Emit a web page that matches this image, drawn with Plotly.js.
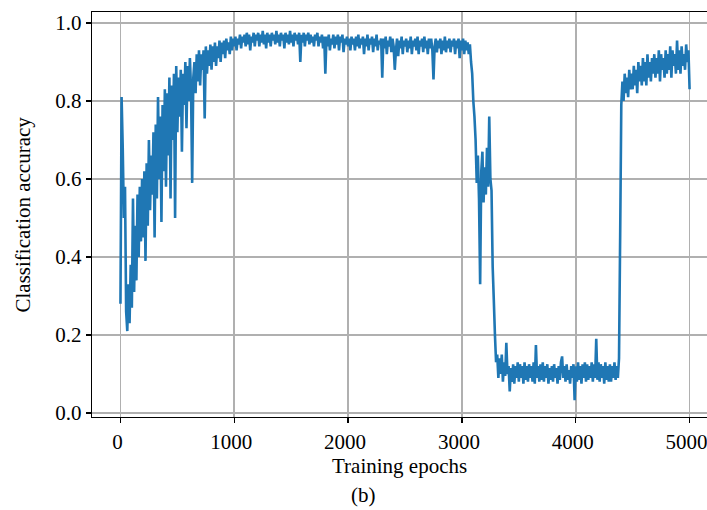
<!DOCTYPE html>
<html>
<head>
<meta charset="utf-8">
<script src="https://cdn.plot.ly/plotly-3.0.1.min.js"></script>
<style>
html, body { margin: 0; padding: 0; background: #ffffff; overflow: hidden; }
#chart { width: 707px; height: 510px; }
</style>
</head>
<body>
<div id="chart"></div>
<script>
// Sampling interval of the recorded accuracy (epochs between samples)
const epochStep = 10;

// Classification accuracy, one value every 10 epochs (0 .. 5000)
const accuracy = [
  0.28, 0.81, 0.68, 0.50, 0.58, 0.26, 0.21, 0.33, 0.23, 0.38,
  0.27, 0.55, 0.31, 0.48, 0.34, 0.56, 0.40, 0.58, 0.44, 0.60,
  0.45, 0.62, 0.39, 0.64, 0.48, 0.70, 0.52, 0.66, 0.56, 0.72,
  0.45, 0.74, 0.55, 0.81, 0.60, 0.76, 0.49, 0.79, 0.62, 0.83,
  0.58, 0.82, 0.66, 0.86, 0.55, 0.84, 0.70, 0.87, 0.50, 0.89,
  0.72, 0.86, 0.76, 0.88, 0.67, 0.87, 0.79, 0.90, 0.73, 0.89,
  0.80, 0.91, 0.83, 0.59, 0.86, 0.90, 0.82, 0.92, 0.85, 0.93,
  0.84, 0.92, 0.88, 0.93, 0.755, 0.94, 0.87, 0.93, 0.89, 0.945,
  0.88, 0.94, 0.90, 0.95, 0.89, 0.94, 0.91, 0.955, 0.90, 0.95,
  0.92, 0.955, 0.91, 0.96, 0.93, 0.95, 0.92, 0.965, 0.93, 0.96,
  0.94, 0.965, 0.93, 0.96, 0.945, 0.97, 0.935, 0.965, 0.95, 0.97,
  0.94, 0.975, 0.945, 0.97, 0.93, 0.965, 0.95, 0.975, 0.94, 0.97,
  0.955, 0.975, 0.94, 0.97, 0.95, 0.98, 0.945, 0.97, 0.935, 0.975,
  0.95, 0.97, 0.94, 0.975, 0.955, 0.97, 0.945, 0.98, 0.95, 0.97,
  0.94, 0.975, 0.955, 0.97, 0.935, 0.975, 0.95, 0.97, 0.945, 0.98,
  0.95, 0.97, 0.94, 0.975, 0.955, 0.97, 0.945, 0.975, 0.90, 0.97,
  0.95, 0.975, 0.94, 0.97, 0.955, 0.975, 0.945, 0.97, 0.95, 0.965,
  0.94, 0.97, 0.955, 0.975, 0.94, 0.965, 0.95, 0.97, 0.935, 0.965,
  0.87, 0.965, 0.94, 0.97, 0.93, 0.96, 0.945, 0.97, 0.935, 0.965,
  0.945, 0.97, 0.93, 0.965, 0.95, 0.97, 0.925, 0.96, 0.945, 0.965,
  0.94, 0.96, 0.93, 0.965, 0.945, 0.96, 0.93, 0.965, 0.94, 0.97,
  0.935, 0.96, 0.945, 0.965, 0.92, 0.96, 0.94, 0.97, 0.93, 0.96,
  0.945, 0.965, 0.925, 0.96, 0.94, 0.97, 0.93, 0.955, 0.945, 0.96,
  0.86, 0.96, 0.935, 0.965, 0.92, 0.955, 0.94, 0.965, 0.925, 0.96,
  0.94, 0.88, 0.93, 0.96, 0.915, 0.955, 0.935, 0.965, 0.92, 0.955,
  0.94, 0.96, 0.925, 0.955, 0.935, 0.965, 0.92, 0.955, 0.94, 0.96,
  0.93, 0.965, 0.92, 0.955, 0.94, 0.96, 0.925, 0.965, 0.935, 0.955,
  0.92, 0.96, 0.935, 0.96, 0.93, 0.855, 0.94, 0.96, 0.925, 0.955,
  0.935, 0.96, 0.92, 0.955, 0.93, 0.965, 0.925, 0.955, 0.935, 0.96,
  0.925, 0.955, 0.94, 0.96, 0.92, 0.955, 0.935, 0.96, 0.91, 0.955,
  0.93, 0.96, 0.92, 0.955, 0.93, 0.95, 0.92, 0.945, 0.90, 0.87,
  0.80, 0.76, 0.70, 0.59, 0.66, 0.55, 0.33, 0.62, 0.67, 0.54,
  0.63, 0.56, 0.68, 0.58, 0.76, 0.60, 0.57, 0.375, 0.29, 0.20,
  0.13, 0.15, 0.09, 0.14, 0.10, 0.15, 0.08, 0.13, 0.095, 0.18,
  0.10, 0.12, 0.055, 0.115, 0.08, 0.125, 0.075, 0.12, 0.09, 0.13,
  0.08, 0.125, 0.09, 0.12, 0.075, 0.13, 0.085, 0.12, 0.08, 0.125,
  0.09, 0.12, 0.08, 0.13, 0.075, 0.174, 0.09, 0.12, 0.08, 0.125,
  0.085, 0.13, 0.08, 0.12, 0.09, 0.125, 0.075, 0.115, 0.085, 0.12,
  0.08, 0.125, 0.09, 0.115, 0.075, 0.12, 0.085, 0.13, 0.145, 0.09,
  0.12, 0.08, 0.125, 0.085, 0.11, 0.075, 0.12, 0.09, 0.125, 0.033,
  0.12, 0.08, 0.13, 0.085, 0.12, 0.075, 0.125, 0.09, 0.13, 0.08,
  0.125, 0.085, 0.12, 0.09, 0.13, 0.08, 0.125, 0.09, 0.19, 0.085,
  0.13, 0.08, 0.125, 0.09, 0.12, 0.075, 0.13, 0.085, 0.12, 0.08,
  0.125, 0.08, 0.12, 0.09, 0.13, 0.085, 0.12, 0.09, 0.14, 0.45,
  0.79, 0.85, 0.80, 0.87, 0.82, 0.86, 0.81, 0.88, 0.83, 0.87,
  0.83, 0.89, 0.84, 0.88, 0.82, 0.90, 0.85, 0.89, 0.84, 0.91,
  0.85, 0.90, 0.84, 0.92, 0.86, 0.90, 0.85, 0.91, 0.87, 0.92,
  0.86, 0.91, 0.87, 0.93, 0.85, 0.92, 0.88, 0.91, 0.86, 0.93,
  0.87, 0.92, 0.88, 0.94, 0.86, 0.93, 0.89, 0.92, 0.87, 0.955,
  0.88, 0.93, 0.87, 0.94, 0.89, 0.92, 0.88, 0.945, 0.90, 0.93,
  0.83
];

const epochs = accuracy.map((_, i) => i * epochStep);

const xTickVals = [0, 1000, 2000, 3000, 4000, 5000];
const yTickVals = [0.0, 0.2, 0.4, 0.6, 0.8, 1.0];
const yTickText = ['0.0', '0.2', '0.4', '0.6', '0.8', '1.0'];

const xTitle = 'Training epochs';
const yTitle = 'Classification accuracy';
const panelLabel = '(b)';

const serif = 'Liberation Serif, Times New Roman, serif';

const trace = {
  x: epochs,
  y: accuracy,
  type: 'scatter',
  mode: 'lines',
  line: { color: '#1f77b4', width: 2.6, simplify: false },
  hoverinfo: 'skip'
};

const axisCommon = {
  showgrid: true,
  gridcolor: '#b0b0b0',
  gridwidth: 1.6,
  zeroline: false,
  showline: true,
  linecolor: '#000000',
  linewidth: 1.4,
  ticks: 'outside',
  ticklen: 5,
  tickwidth: 1.3,
  tickcolor: '#000000',
  tickfont: { family: serif, size: 21, color: '#000000' },
  ticklabeloverflow: 'allow',
  automargin: false
};

const layout = {
  width: 707,
  height: 510,
  margin: { l: 92, r: 0, t: 12, b: 93 },
  paper_bgcolor: '#ffffff',
  plot_bgcolor: '#ffffff',
  showlegend: false,
  font: { family: serif, color: '#000000' },
  xaxis: Object.assign({}, axisCommon, {
    range: [-250, 5153],
    tickvals: xTickVals,
    ticktext: xTickVals.map(String),
    ticklabelshift: -3,
    mirror: true
  }),
  yaxis: Object.assign({}, axisCommon, {
    range: [-0.0103, 1.0282],
    tickvals: yTickVals,
    ticktext: yTickText,
    mirror: false
  }),
  annotations: [
    {
      text: xTitle, xref: 'paper', yref: 'paper', x: 0.5, y: -0.121,
      xanchor: 'center', yanchor: 'middle', showarrow: false,
      font: { family: serif, size: 21, color: '#000000' }
    },
    {
      text: yTitle, xref: 'paper', yref: 'paper', x: -0.1138, y: 0.5,
      xanchor: 'center', yanchor: 'middle', showarrow: false, textangle: -90,
      font: { family: serif, size: 21, color: '#000000' }
    },
    {
      text: panelLabel, xref: 'paper', yref: 'paper', x: 0.4407, y: -0.1926,
      xanchor: 'center', yanchor: 'middle', showarrow: false,
      font: { family: serif, size: 21, color: '#000000' }
    }
  ]
};

Plotly.newPlot('chart', [trace], layout, { staticPlot: true, displayModeBar: false });
</script>
</body>
</html>
